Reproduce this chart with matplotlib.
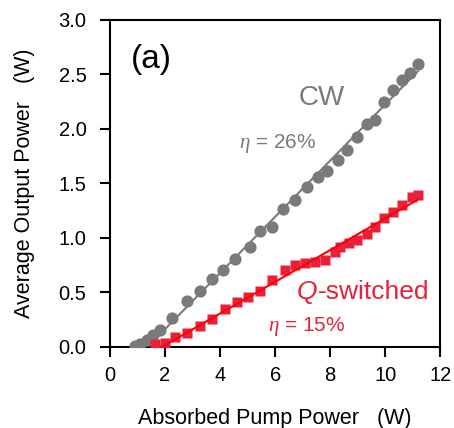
import matplotlib.pyplot as plt
import numpy as np

plt.rcParams['font.family'] = ['Liberation Sans', 'DejaVu Sans']
plt.rcParams['mathtext.fontset'] = 'custom'
plt.rcParams['mathtext.it'] = 'Liberation Serif:italic'

# CW data (absorbed pump W, output W)
cw_pump = [0.91, 1.09, 1.33, 1.58, 1.82, 2.24, 2.79, 3.27, 3.70, 4.12, 4.55, 5.09,
           5.45, 5.88, 6.30, 6.73, 7.15, 7.54, 7.88, 8.30, 8.61, 8.97, 9.33, 9.64,
           9.94, 10.30, 10.60, 10.90, 11.18]
cw_power = [0.01, 0.03, 0.06, 0.11, 0.16, 0.27, 0.42, 0.51, 0.62, 0.71, 0.81, 0.92,
            1.06, 1.10, 1.27, 1.35, 1.47, 1.56, 1.61, 1.72, 1.81, 1.93, 2.05, 2.08,
            2.25, 2.36, 2.45, 2.51, 2.60]

# Q-switched data
qs_pump = [1.64, 2.00, 2.36, 2.79, 3.27, 3.70, 4.18, 4.60, 5.03, 5.45, 5.88, 6.36,
           6.73, 7.09, 7.45, 7.82, 8.18, 8.36, 8.67, 8.97, 9.33, 9.64, 9.94, 10.30,
           10.60, 10.97, 11.20]
qs_power = [0.03, 0.04, 0.09, 0.13, 0.19, 0.26, 0.35, 0.41, 0.46, 0.51, 0.61, 0.71,
            0.75, 0.77, 0.78, 0.80, 0.87, 0.92, 0.95, 0.98, 1.04, 1.10, 1.18, 1.24,
            1.30, 1.38, 1.39]

gray = '#7a7a7a'
red = '#e8203a'

fig = plt.figure(figsize=(4.54, 4.28), dpi=100)
ax = fig.add_axes([0.2423, 0.1893, 0.7275, 0.764])


def fit_line(x, y, xmin):
    x = np.array(x)
    y = np.array(y)
    m = x >= xmin
    k, b = np.polyfit(x[m], y[m], 1)
    x0 = -b / k
    xs = np.array([x0, x.max()])
    return xs, k * xs + b


xs, ys = fit_line(cw_pump, cw_power, 1.8)
ax.plot(xs, ys, color=gray, lw=1.5, zorder=2)
ax.plot(cw_pump, cw_power, 'o', color=gray, ms=8.8, mec='none', zorder=3)

xs, ys = fit_line(qs_pump, qs_power, 2.5)
ax.plot(qs_pump, qs_power, 's', color=red, ms=7.5, mec='none', zorder=3)
ax.plot(xs, ys, color='#ff0000', lw=1.5, zorder=4)

ax.set_xlim(0, 12)
ax.set_ylim(0, 3.0)
ax.set_xticks(np.arange(0, 13, 2))
ax.set_yticks(np.arange(0, 3.01, 0.5))
ax.set_yticklabels(['%.1f' % v for v in np.arange(0, 3.01, 0.5)])
ax.tick_params(direction='out', length=7, width=1.5, labelsize=14.5)
ax.tick_params(axis='x', pad=7)
ax.tick_params(axis='y', pad=10)
for s in ax.spines.values():
    s.set_linewidth(1.5)

ax.set_xlabel('Absorbed Pump Power   (W)', fontsize=15.5, va='center')
ax.xaxis.set_label_coords(0.5, -0.22)
ax.set_ylabel('Average Output Power   (W)', fontsize=15.5, va='center')
ax.yaxis.set_label_coords(-0.26, 0.5)

ax.text(1.5, 2.64, '(a)', fontsize=24, va='center', ha='center')
ax.text(7.7, 2.28, 'CW', fontsize=20, color=gray, ha='center', va='center')
ax.text(6.1, 1.87, r'$\eta$ = 26%', fontsize=15, color=gray, ha='center', va='center')
q = ax.text(6.8, 0.50, 'Q', fontsize=19, color=red, ha='left', va='center', style='italic')
ax.annotate('-switched', xy=(1, 0.5), xycoords=q, fontsize=19, color=red,
            ha='left', va='center')
ax.text(7.13, 0.19, r'$\eta$ = 15%', fontsize=15, color=red, ha='center', va='center')

fig.savefig('out.png', dpi=100)
